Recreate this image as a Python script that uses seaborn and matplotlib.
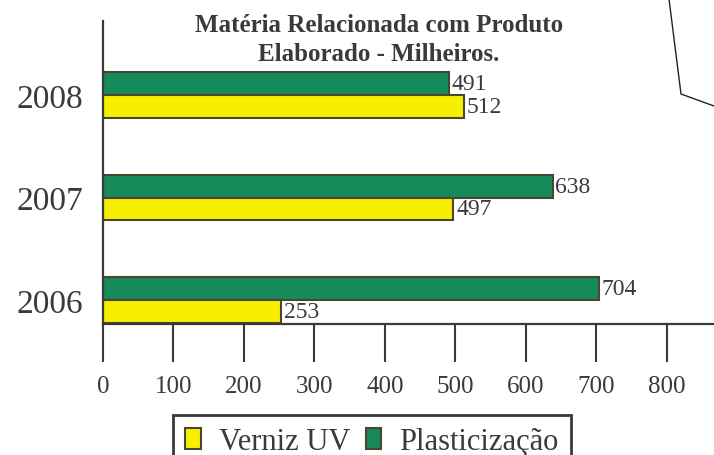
import matplotlib
matplotlib.use('Agg')
import matplotlib.pyplot as plt
from matplotlib.patches import Rectangle
from matplotlib.lines import Line2D
import pandas as pd
import seaborn as sns

# values
years = ['2008', '2007', '2006']
verniz_uv = [512, 497, 253]
plasticizacao = [491, 638, 704]
x_ticks = [0, 100, 200, 300, 400, 500, 600, 700, 800]
title_text = 'Matéria Relacionada com Produto\nElaborado - Milheiros.'

green = '#168a5a'
yellow = '#f7ef00'
edge = '#4a4630'
ink = '#3a3a3a'

df = pd.DataFrame({
    'ano': years * 2,
    'valor': plasticizacao + verniz_uv,
    'serie': ['Plasticização'] * 3 + ['Verniz UV'] * 3,
})

sns.set_style('white')
plt.rcParams['font.family'] = ['Liberation Serif', 'DejaVu Serif']

fig = plt.figure(figsize=(7.14, 4.56), dpi=100)
ax = fig.add_axes([103 / 714, (456 - 325) / 456, 1 - 103 / 714, 303 / 456])

sns.barplot(data=df, x='valor', y='ano', hue='serie', order=years,
            hue_order=['Plasticização', 'Verniz UV'],
            palette={'Plasticização': green, 'Verniz UV': yellow},
            orient='h', width=0.44, edgecolor=edge, linewidth=1.5,
            saturation=1, legend=False, ax=ax)

for cont in ax.containers:
    ax.bar_label(cont, padding=2, fontsize=17, color=ink)

ax.set_xlim(0, 867)
ax.set_ylim(2.234, -0.722)
ax.set_xticks(x_ticks)
ax.set_xticklabels([str(t) for t in x_ticks])
ax.set_xlabel('')
ax.set_ylabel('')
ax.tick_params(axis='x', direction='out', length=27, width=1.5, color=ink,
               pad=10, labelsize=18, labelcolor=ink, bottom=True)
ax.tick_params(axis='y', length=0, pad=14, labelsize=24, labelcolor=ink)

sns.despine(ax=ax, top=True, right=True)
for side in ['left', 'bottom']:
    ax.spines[side].set_color(ink)
    ax.spines[side].set_linewidth(1.6)
ax.patch.set_alpha(0)

fig.text(379 / 714, 1 - 14 / 456, title_text, ha='center', va='top',
         fontsize=18, fontweight='bold', color=ink, linespacing=1.35)

handles = [Rectangle((0, 0), 1, 1, facecolor=yellow, edgecolor=edge, linewidth=1.5),
           Rectangle((0, 0), 1, 1, facecolor=green, edgecolor=edge, linewidth=1.5)]
leg = fig.legend(handles, ['Verniz UV', 'Plasticização'], ncol=2,
                 loc='upper left', bbox_to_anchor=(173 / 714, 1 - 416 / 456),
                 borderaxespad=0, fontsize=22, handlelength=0.5,
                 handleheight=0.65, handletextpad=0.6, columnspacing=0.5,
                 borderpad=0.4, fancybox=False, framealpha=1)
leg.get_frame().set_edgecolor(ink)
leg.get_frame().set_linewidth(2)
for t in leg.get_texts():
    t.set_color(ink)

# the thin outline in the top right corner
fig.add_artist(Line2D([669 / 714, 681 / 714, 1.0],
                      [1.0, 1 - 95 / 456, 1 - 107 / 456],
                      transform=fig.transFigure, color='#222222', linewidth=1))

fig.savefig('out.png', dpi=100)
